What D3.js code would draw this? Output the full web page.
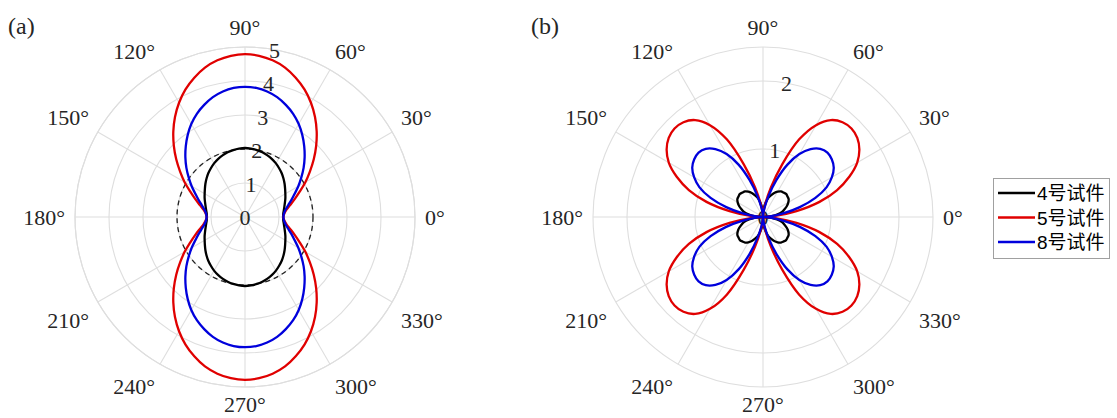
<!DOCTYPE html>
<html>
<head>
<meta charset="utf-8">
<script src="https://cdn.jsdelivr.net/npm/d3@7"></script>
<style>
  body { margin: 0; background: #fff; }
  text { font-family: "Liberation Serif", "Times New Roman", serif; fill: #262626; }
  .legend text { font-family: "Liberation Sans", "Noto Sans CJK SC", sans-serif; fill: #000; }
</style>
</head>
<body>
<svg id="chart" width="1117" height="418"></svg>
<script>
// Sample angles (degrees, counter-clockwise from 0°)
const thetaDeg = d3.range(0, 360, 5);
const thetaTicks = [0, 30, 60, 90, 120, 150, 180, 210, 240, 270, 300, 330];
const rTicksA = [0, 1, 2, 3, 4, 5];
const rTicksB = [0, 1, 2];
const refCircleA = 2;
const specimens = ["4号试件", "5号试件", "8号试件"];
const colors = ["#000000", "#e00000", "#0000dc"];

// Panel (a): polar values for specimens 4, 5, 8
const a4 = [
  1.12,1.13,1.16,1.2,1.25,1.31,1.37,1.44,1.52,1.6,1.68,1.75,1.82,1.88,1.93,1.97,2.0,2.02,2.03,
  2.02,2.0,1.97,1.93,1.88,1.82,1.75,1.68,1.6,1.52,1.44,1.37,1.31,1.25,1.2,1.16,1.13,
  1.12,1.13,1.16,1.2,1.25,1.31,1.37,1.44,1.52,1.6,1.68,1.75,1.82,1.88,1.93,1.97,2.0,2.02,2.03,
  2.02,2.0,1.97,1.93,1.88,1.82,1.75,1.68,1.6,1.52,1.44,1.37,1.31,1.25,1.2,1.16,1.13
];
const a5 = [
  1.13,1.16,1.24,1.38,1.56,1.78,2.05,2.33,2.64,2.96,3.28,3.59,3.88,4.14,4.36,4.55,4.68,4.76,4.79,
  4.76,4.68,4.55,4.36,4.14,3.88,3.59,3.28,2.96,2.64,2.33,2.05,1.78,1.56,1.38,1.24,1.16,
  1.13,1.16,1.24,1.38,1.56,1.78,2.05,2.33,2.64,2.96,3.28,3.59,3.88,4.14,4.36,4.55,4.68,4.76,4.79,
  4.76,4.68,4.55,4.36,4.14,3.88,3.59,3.28,2.96,2.64,2.33,2.05,1.78,1.56,1.38,1.24,1.16
];
const a8 = [
  1.13,1.15,1.21,1.31,1.45,1.61,1.81,2.02,2.25,2.48,2.71,2.94,3.16,3.35,3.51,3.65,3.75,3.81,3.83,
  3.81,3.75,3.65,3.51,3.35,3.16,2.94,2.71,2.48,2.25,2.02,1.81,1.61,1.45,1.31,1.21,1.15,
  1.13,1.15,1.21,1.31,1.45,1.61,1.81,2.02,2.25,2.48,2.71,2.94,3.16,3.35,3.51,3.65,3.75,3.81,3.83,
  3.81,3.75,3.65,3.51,3.35,3.16,2.94,2.71,2.48,2.25,2.02,1.81,1.61,1.45,1.31,1.21,1.15
];

// Panel (b): polar values for specimens 4, 5, 8
const b4 = [
  0,0.13,0.21,0.29,0.34,0.39,0.43,0.46,0.47,0.48,0.47,0.46,0.43,0.39,0.34,0.29,0.21,0.13,0,
  0.13,0.21,0.29,0.34,0.39,0.43,0.46,0.47,0.48,0.47,0.46,0.43,0.39,0.34,0.29,0.21,0.13,
  0,0.13,0.21,0.29,0.34,0.39,0.43,0.46,0.47,0.48,0.47,0.46,0.43,0.39,0.34,0.29,0.21,0.13,0,
  0.13,0.21,0.29,0.34,0.39,0.43,0.46,0.47,0.48,0.47,0.46,0.43,0.39,0.34,0.29,0.21,0.13
];
const b5 = [
  0,0.18,0.5,0.86,1.16,1.4,1.6,1.73,1.81,1.84,1.82,1.74,1.56,1.26,0.82,0.45,0.2,0.06,0,
  0.06,0.2,0.45,0.82,1.26,1.56,1.74,1.82,1.84,1.81,1.73,1.6,1.4,1.16,0.86,0.5,0.18,
  0,0.18,0.5,0.86,1.16,1.4,1.6,1.73,1.81,1.84,1.82,1.74,1.56,1.26,0.82,0.45,0.2,0.06,0,
  0.06,0.2,0.45,0.82,1.26,1.56,1.74,1.82,1.84,1.81,1.73,1.6,1.4,1.16,0.86,0.5,0.18
];
const b8 = [
  0,0.1,0.3,0.56,0.82,1.03,1.17,1.27,1.32,1.34,1.31,1.22,1.07,0.85,0.58,0.33,0.15,0.05,0,
  0.05,0.15,0.33,0.58,0.85,1.07,1.22,1.31,1.34,1.32,1.27,1.17,1.03,0.82,0.56,0.3,0.1,
  0,0.1,0.3,0.56,0.82,1.03,1.17,1.27,1.32,1.34,1.31,1.22,1.07,0.85,0.58,0.33,0.15,0.05,0,
  0.05,0.15,0.33,0.58,0.85,1.07,1.22,1.31,1.34,1.32,1.27,1.17,1.03,0.82,0.56,0.3,0.1
];

const svg = d3.select("#chart");
const R = 170;

// degrees (math convention) -> d3 radial angle (0 at top, clockwise)
const angle = d3.scaleLinear().domain([0, 360]).range([Math.PI / 2, Math.PI / 2 - 2 * Math.PI]);

function drawPanel(cx, cy, rMax, rTicks, series, label, labelX, dashedR) {
  const g = svg.append("g").attr("transform", `translate(${cx},${cy})`);
  const r = d3.scaleLinear().domain([0, rMax]).range([0, R]);
  const grid = g.append("g").attr("fill", "none").attr("stroke", "#dedede").attr("stroke-width", 1.1);

  // spokes
  thetaTicks.forEach(t => {
    const a = angle(t);
    grid.append("line")
      .attr("x1", 0).attr("y1", 0)
      .attr("x2", R * Math.sin(a)).attr("y2", -R * Math.cos(a));
  });
  // rings
  rTicks.filter(v => v > 0).concat([rMax]).forEach(v => {
    grid.append("circle").attr("r", r(v));
  });

  // angular tick labels
  thetaTicks.forEach(t => {
    const a = angle(t);
    const LR = R + 10;
    const px = LR * Math.sin(a), py = -LR * Math.cos(a);
    const c = Math.cos(t * Math.PI / 180), s = Math.sin(t * Math.PI / 180);
    const anchor = c > 0.1 ? "start" : (c < -0.1 ? "end" : "middle");
    let dy = s > 0.1 ? -2 : (s < -0.1 ? 21 : 8);
    if (t === 270) dy = 15;
    g.append("text")
      .attr("x", px).attr("y", py + dy)
      .attr("text-anchor", anchor)
      .attr("font-size", 22)
      .text(t + "°");
  });

  // radial tick labels along the 80° direction
  rTicks.forEach(v => {
    const a = angle(80);
    g.append("text")
      .attr("x", r(v) * Math.sin(a)).attr("y", -r(v) * Math.cos(a) + 8)
      .attr("text-anchor", "middle")
      .attr("font-size", 22)
      .text(v);
  });

  if (dashedR != null) {
    g.append("circle")
      .attr("r", r(dashedR))
      .attr("fill", "none")
      .attr("stroke", "#222")
      .attr("stroke-width", 1.3)
      .attr("stroke-dasharray", "5,4");
  }

  const line = d3.lineRadial()
    .angle(d => angle(d[0]))
    .radius(d => r(d[1]))
    .curve(d3.curveCatmullRomClosed.alpha(0.5));

  series.forEach((vals, i) => {
    g.append("path")
      .datum(thetaDeg.map((t, k) => [t, vals[k]]))
      .attr("d", line)
      .attr("fill", "none")
      .attr("stroke", colors[i])
      .attr("stroke-width", 2.3);
  });

  svg.append("text")
    .attr("x", labelX).attr("y", 34)
    .attr("font-size", 24)
    .attr("fill", "#000")
    .text(label);
}

drawPanel(245, 217, 5, rTicksA, [a4, a5, a8], "(a)", 8, refCircleA);
drawPanel(763, 217, 2.5, rTicksB, [b4, b5, b8], "(b)", 531, null);

// legend
const lg = svg.append("g").attr("class", "legend");
lg.append("rect")
  .attr("x", 993.5).attr("y", 178.5).attr("width", 116).attr("height", 80)
  .attr("fill", "#fff").attr("stroke", "#a0a0a0").attr("stroke-width", 1);
specimens.forEach((name, i) => {
  const y = 193 + i * 24.5;
  lg.append("line")
    .attr("x1", 998).attr("x2", 1035).attr("y1", y).attr("y2", y)
    .attr("stroke", colors[i]).attr("stroke-width", 2.3);
  lg.append("text")
    .attr("x", 1037).attr("y", y + 7)
    .attr("font-size", 19)
    .text(name);
});
</script>
</body>
</html>
